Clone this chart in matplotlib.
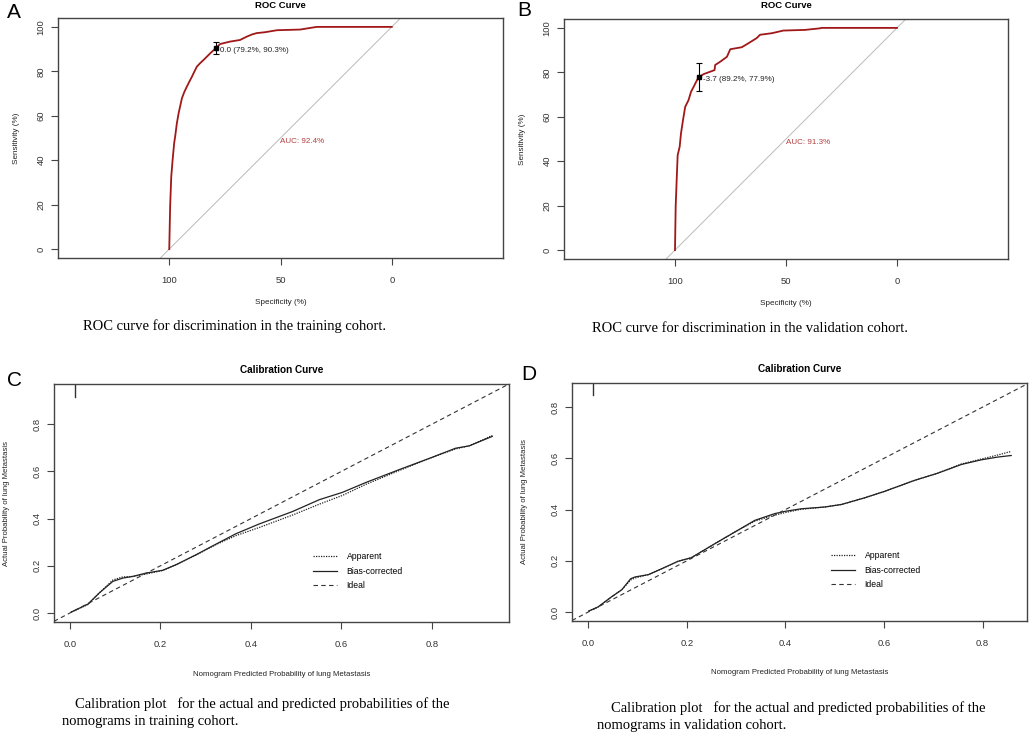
import numpy as np
import matplotlib
matplotlib.use('Agg')
import matplotlib.pyplot as plt

plt.rcParams['font.family'] = 'Liberation Sans'

# ROC data (specificity %, sensitivity %)
roc_train_spec = [100, 99.6, 99.1, 98.5, 97.8, 97.3, 96.6, 95.8, 94.3, 93.2, 92.1, 90.9, 89.8, 88.7,
                  87.6, 86.1, 84.6, 83.1, 81.6, 79.2, 77.1, 72.6, 68.2, 65.2, 62.8, 60.7, 57.0,
                  51.6, 41.2, 33.7, 0]
roc_train_sens = [0, 19.2, 32.6, 40.0, 47.6, 51.0, 56.5, 61.1, 67.9, 70.8, 73.1, 75.5, 77.6, 79.9,
                  82.1, 83.7, 85.1, 86.6, 88.1, 90.3, 92.3, 93.4, 94.1, 95.6, 96.6, 97.2, 97.6,
                  98.5, 98.8, 100, 100]
roc_valid_spec = [100, 99.7, 99.25, 98.8, 97.9, 97.3, 96.4, 95.4, 93.9, 92.8, 91.6, 90.1, 89.2, 87.1,
                  84.1, 82.2, 81.9, 79.6, 76.6, 75.1, 69.9, 66.9, 63.2, 61.7, 56.4, 51.2, 41.4, 34.7, 34.0, 0]
roc_valid_sens = [0, 19.5, 31.5, 42.7, 46.5, 52.5, 58.5, 64.5, 67.5, 71.2, 73.5, 76.5, 77.9, 79.2,
                  80.3, 81.0, 83.3, 84.8, 87.0, 90.4, 91.3, 93.1, 95.4, 96.9, 97.6, 98.8, 99.1, 99.8, 100, 100]

# best threshold, CI and AUC
thr_train = dict(spec=79.2, sens=90.3, lo=87.8, hi=93.0, label='0.0 (79.2%, 90.3%)', auc='AUC: 92.4%')
thr_valid = dict(spec=89.2, sens=77.9, lo=71.7, hi=84.0, label='-3.7 (89.2%, 77.9%)', auc='AUC: 91.3%')

# Calibration data (predicted, actual)
cal_train_x = [0.003, 0.04, 0.065, 0.095, 0.117, 0.139, 0.168, 0.205, 0.235, 0.279, 0.323, 0.367,
               0.418, 0.492, 0.551, 0.602, 0.654, 0.727, 0.801, 0.852, 0.882, 0.933]
cal_train_bias = [0.004, 0.038, 0.085, 0.134, 0.148, 0.155, 0.169, 0.181, 0.205, 0.247, 0.292, 0.336,
                  0.377, 0.430, 0.480, 0.511, 0.553, 0.607, 0.660, 0.698, 0.708, 0.748]
cal_train_app = [0.004, 0.036, 0.085, 0.140, 0.153, 0.155, 0.165, 0.180, 0.205, 0.246, 0.290, 0.328,
                 0.362, 0.415, 0.461, 0.498, 0.545, 0.603, 0.660, 0.695, 0.708, 0.752]
cal_valid_x = [0.001, 0.02, 0.047, 0.068, 0.086, 0.095, 0.122, 0.149, 0.182, 0.209, 0.257, 0.297, 0.338,
               0.378, 0.399, 0.432, 0.48, 0.514, 0.561, 0.601, 0.662, 0.709, 0.757, 0.797, 0.831, 0.858]
cal_valid_bias = [0.004, 0.02, 0.059, 0.087, 0.130, 0.137, 0.146, 0.169, 0.198, 0.212, 0.267, 0.312, 0.358,
                  0.384, 0.393, 0.403, 0.41, 0.42, 0.446, 0.471, 0.514, 0.542, 0.576, 0.594, 0.605, 0.611]
cal_valid_app = [0.004, 0.02, 0.059, 0.087, 0.125, 0.133, 0.146, 0.169, 0.198, 0.212, 0.267, 0.312, 0.355,
                 0.378, 0.388, 0.401, 0.41, 0.42, 0.446, 0.471, 0.514, 0.542, 0.578, 0.597, 0.613, 0.627]

W, H = 1031, 734
fig = plt.figure(figsize=(W / 100, H / 100), dpi=100)

def rect(x0, y0, x1, y1):
    return [x0 / W, 1 - y1 / H, (x1 - x0) / W, (y1 - y0) / H]

def ftext(x, y, s, **kw):
    fig.text(x / W, 1 - y / H, s, **kw)

def style_axes(ax):
    for sp in ax.spines.values():
        sp.set_color('#444444')
        sp.set_linewidth(1.0)
    ax.tick_params(direction='out', length=5, width=0.8, color='#444444', labelsize=6.8,
                   labelcolor='#333333')
    ax.tick_params(axis='x', pad=8)
    ax.tick_params(axis='y', pad=4)
    for lab in ax.get_yticklabels():
        lab.set_rotation(90)
        lab.set_va('center')

def roc_panel(box, spec, sens, thr, letter, caption):
    x0, y0, x1, y1 = box
    ax = fig.add_axes(rect(*box))
    ax.set_xlim(150, -50)
    ax.set_ylim(-4, 104)
    ax.axline((100, 0), (0, 100), color='#bbbbbb', lw=0.7)
    ax.plot(spec, sens, color='#a01818', lw=1.3)
    ax.errorbar([thr['spec']], [thr['sens']],
                yerr=[[thr['sens'] - thr['lo']], [thr['hi'] - thr['sens']]],
                fmt='s', color='black', ms=2.5, elinewidth=0.8, capsize=2.5, capthick=0.8)
    ax.annotate(thr['label'], (thr['spec'], thr['sens']), xytext=(3, 1), textcoords='offset points',
                ha='left', va='top', fontsize=5.8, color='#222222')
    ax.text(50, 50, thr['auc'], ha='left', va='top', fontsize=5.8, color='#b24040')
    ax.set_xticks([100, 50, 0])
    ax.set_yticks([0, 20, 40, 60, 80, 100])
    style_axes(ax)
    cx = (x0 + x1) / 2
    ftext(cx, y0 - 13, 'ROC Curve', ha='center', va='center', fontsize=6.8, fontweight='bold')
    ftext(cx, y1 + 44, 'Specificity (%)', ha='center', va='center', fontsize=5.9, color='#222222')
    ftext(x0 - 41, (y0 + y1) / 2, 'Sensitivity (%)', ha='center', va='center', rotation=90,
          fontsize=5.9, color='#222222')
    ftext(letter[1], letter[2], letter[0], ha='left', va='center', fontsize=15)
    ftext(caption[0], caption[1], caption[2], ha='left', va='center', fontsize=10.5,
          family='Liberation Serif')
    return ax

roc_panel((58, 18, 503, 258), roc_train_spec, roc_train_sens, thr_train, ('A', 7, 12),
          (83, 326, 'ROC curve for discrimination in the training cohort.'))
roc_panel((564, 19, 1008, 259), roc_valid_spec, roc_valid_sens, thr_valid, ('B', 517, 11),
          (592, 329, 'ROC curve for discrimination in the validation cohort.'))

def cal_panel(box, lims, xs, app, bias, rug, letter, legend_xy, cap1, cap2):
    x0, y0, x1, y1 = box
    ax = fig.add_axes(rect(*box))
    ax.set_xlim(lims[0], lims[1])
    ax.set_ylim(lims[2], lims[3])
    ax.plot(xs, app, color='#222222', lw=0.9, ls=(0, (1, 1)), label='Apparent')
    ax.plot(xs, bias, color='#222222', lw=0.9, ls='-', label='Bias-corrected')
    ax.axline((0, 0), (1, 1), color='#333333', lw=0.8, ls=(0, (4, 3)), label='Ideal')
    ax.plot([rug[0], rug[0]], [rug[1], lims[3]], color='#333333', lw=1.0)
    ax.set_xticks([0.0, 0.2, 0.4, 0.6, 0.8])
    ax.set_yticks([0.0, 0.2, 0.4, 0.6, 0.8])
    ax.set_xticklabels(['0.0', '0.2', '0.4', '0.6', '0.8'])
    ax.set_yticklabels(['0.0', '0.2', '0.4', '0.6', '0.8'])
    style_axes(ax)
    ax.legend(loc='upper left', bbox_to_anchor=(legend_xy[0] / W, 1 - legend_xy[1] / H),
              bbox_transform=fig.transFigure, frameon=False, fontsize=6.2, handlelength=2.8,
              handletextpad=1.1, labelspacing=0.65, borderpad=0, borderaxespad=0)
    cx = (x0 + x1) / 2
    ftext(cx, y0 - 14, 'Calibration Curve', ha='center', va='center', fontsize=7.2, fontweight='bold')
    ftext(cx, y1 + 52, 'Nomogram Predicted Probability of lung Metastasis', ha='center', va='center',
          fontsize=5.6, color='#222222')
    ftext(x0 - 47, (y0 + y1) / 2, 'Actual Probability of lung Metastasis', ha='center', va='center',
          rotation=90, fontsize=5.6, color='#222222')
    ftext(letter[1], letter[2], letter[0], ha='left', va='center', fontsize=15)
    ftext(cap1[0], cap1[1], cap1[2], ha='left', va='center', fontsize=10.5, family='Liberation Serif')
    ftext(cap2[0], cap2[1], cap2[2], ha='left', va='center', fontsize=10.5, family='Liberation Serif')
    return ax

cal_panel((54, 384, 509, 622), (-0.035, 0.97, -0.038, 0.97), cal_train_x, cal_train_app,
          cal_train_bias, (0.0103, 0.917), ('C', 7, 380), (313, 552),
          (75, 704, 'Calibration plot   for the actual and predicted probabilities of the'),
          (62, 721, 'nomograms in training cohort.'))
cal_panel((572, 383, 1027, 621), (-0.033, 0.89, -0.035, 0.894), cal_valid_x, cal_valid_app,
          cal_valid_bias, (0.009, 0.846), ('D', 521, 374), (831, 551),
          (611, 708, 'Calibration plot   for the actual and predicted probabilities of the'),
          (597, 725, 'nomograms in validation cohort.'))

fig.savefig('out.png', dpi=100)
